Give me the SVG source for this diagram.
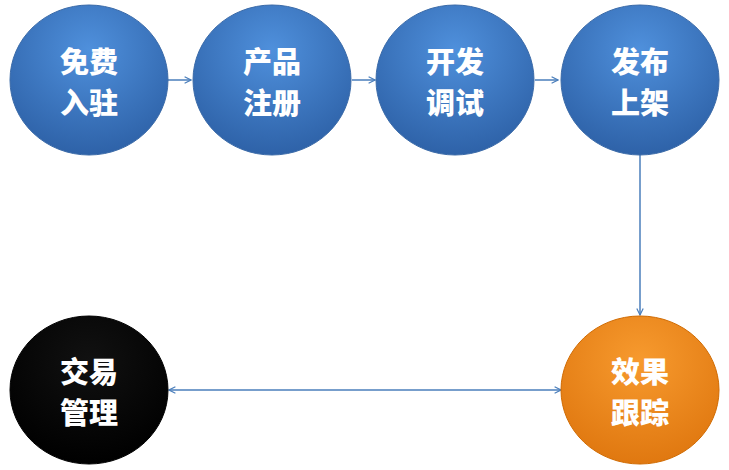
<svg xmlns="http://www.w3.org/2000/svg" width="729" height="470" viewBox="0 0 729 470">
<defs>
<radialGradient id="gb" cx="0.5" cy="0.3" r="0.7"><stop offset="0" stop-color="#4f90dc"/><stop offset="1" stop-color="#2e62a8"/></radialGradient>
<radialGradient id="go" cx="0.5" cy="0.3" r="0.7"><stop offset="0" stop-color="#f79a2e"/><stop offset="1" stop-color="#e07810"/></radialGradient>
<radialGradient id="gk" cx="0.5" cy="0.3" r="0.7"><stop offset="0" stop-color="#111"/><stop offset="1" stop-color="#000"/></radialGradient>
<marker id="a" viewBox="0 0 10 10" refX="9" refY="5" markerWidth="8" markerHeight="8" orient="auto-start-reverse" markerUnits="userSpaceOnUse"><path d="M1,1 L9,5 L1,9" fill="none" stroke="#4a7ebb" stroke-width="1.5"/></marker>
</defs>
<style>
.t{font-family:"Noto Sans CJK SC",sans-serif;font-weight:900;font-size:29px;fill:#fff;text-anchor:middle}
.c{stroke:#3a6aa8;stroke-width:1}
.l{stroke:#4a7ebb;stroke-width:1.5;fill:none;marker-end:url(#a)}
</style>
<rect width="729" height="470" fill="#fff"/>
<g id="connectors">
<line class="l" x1="168" y1="80" x2="191" y2="80"/>
<line class="l" x1="352" y1="80" x2="375" y2="80"/>
<line class="l" x1="535" y1="80" x2="558" y2="80"/>
<line class="l" x1="640" y1="155" x2="640" y2="315"/>
<line class="l" x1="169" y1="390" x2="561" y2="390" marker-start="url(#a)"/>
</g>
<g id="n1"><ellipse cx="89" cy="80" rx="79" ry="75" fill="url(#gb)" class="c"/><text class="t" x="89" y="73">免费</text><text class="t" x="89" y="114">入驻</text></g>
<g id="n2"><ellipse cx="272" cy="80" rx="79" ry="75" fill="url(#gb)" class="c"/><text class="t" x="272" y="73">产品</text><text class="t" x="272" y="114">注册</text></g>
<g id="n3"><ellipse cx="455" cy="80" rx="79" ry="75" fill="url(#gb)" class="c"/><text class="t" x="455" y="73">开发</text><text class="t" x="455" y="114">调试</text></g>
<g id="n4"><ellipse cx="640" cy="80" rx="79" ry="75" fill="url(#gb)" class="c"/><text class="t" x="640" y="73">发布</text><text class="t" x="640" y="114">上架</text></g>
<g id="n5"><ellipse cx="89" cy="390" rx="79" ry="74" fill="url(#gk)" stroke="#000"/><text class="t" x="89" y="383">交易</text><text class="t" x="89" y="424">管理</text></g>
<g id="n6"><ellipse cx="640" cy="390" rx="79" ry="74" fill="url(#go)" stroke="#d06a00"/><text class="t" x="640" y="383">效果</text><text class="t" x="640" y="424">跟踪</text></g>
</svg>
